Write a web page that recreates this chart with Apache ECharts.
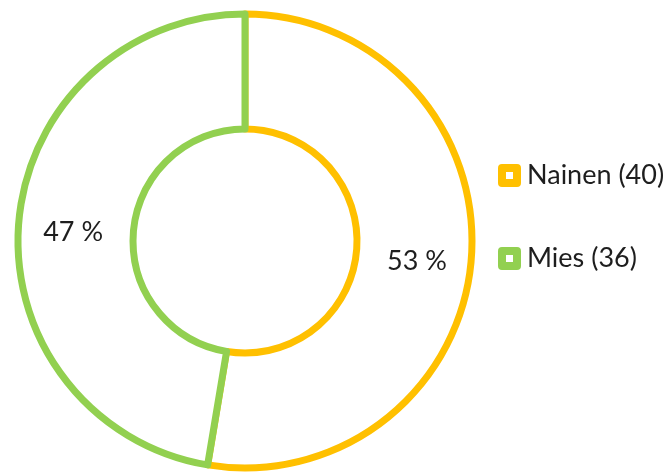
<!DOCTYPE html>
<html>
<head>
<meta charset="utf-8">
<script src="https://cdn.jsdelivr.net/npm/echarts@6/dist/echarts.min.js"></script>
<style>
html,body{margin:0;padding:0;background:#fff;}
#chart{width:666px;height:475px;}
</style>
</head>
<body>
<div id="chart"></div>
<script>
var categories = ['Nainen', 'Mies'];
var counts = [40, 36];
var colors = ['#FFC000', '#92D050'];

var pieData = categories.map(function (c, i) {
  return {
    name: c + ' (' + counts[i] + ')',
    value: counts[i],
    itemStyle: { color: '#ffffff', borderColor: colors[i], borderWidth: 7 }
  };
});

var chart = echarts.init(document.getElementById('chart'));
chart.setOption({
  animation: false,
  legend: {
    orient: 'vertical',
    left: 493,
    top: 157,
    itemWidth: 15,
    itemHeight: 15,
    itemGap: 56,
    icon: 'rect',
    selectedMode: false,
    itemStyle: { borderWidth: 8 },
    textStyle: { fontFamily: 'Lato', fontSize: 27, color: '#1e1e1e', padding: [0, 0, 0, 5] },
    data: pieData.map(function (d, i) {
      return { name: d.name, itemStyle: { color: '#ffffff', borderColor: colors[i], borderWidth: 8, borderJoin: 'round' } };
    })
  },
  series: [{
    type: 'pie',
    center: [245, 241],
    radius: [112, 227],
    startAngle: 90,
    clockwise: true,
    silent: true,
    emphasis: { disabled: true },
    itemStyle: { color: '#ffffff', borderWidth: 7 },
    label: {
      show: true,
      position: 'inside',
      offset: [0, 6],
      fontFamily: 'Lato',
      fontSize: 27,
      color: '#1e1e1e',
      formatter: function (p) { return Math.round(p.percent) + ' %'; }
    },
    labelLine: { show: false },
    data: pieData
  }]
});
</script>
</body>
</html>
